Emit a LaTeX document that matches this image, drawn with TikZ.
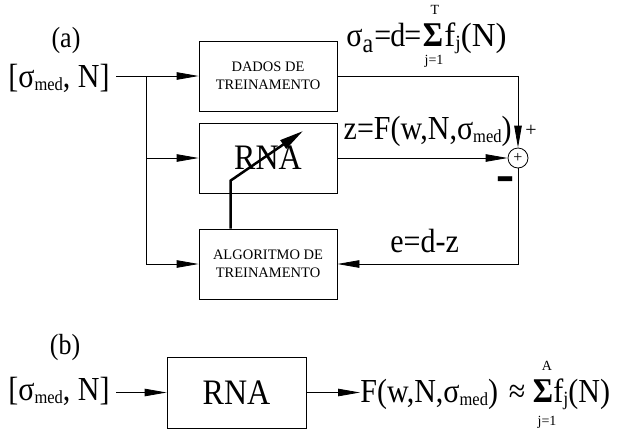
\documentclass[tikz,border=0pt]{standalone}
\usepackage{fontspec}
\usepackage{graphicx}
\setmainfont{Liberation Serif}
\usetikzlibrary{arrows.meta}
\newcommand{\smed}{σ\raisebox{-0.2ex}{\scalebox{0.55}{med}}}
\newcommand{\tl}[1]{\scalebox{1}[1.12]{#1}}
\newcommand{\subj}{\raisebox{-0.25ex}{\scalebox{0.6}{j}}}
\begin{document}
\begin{tikzpicture}[x=1pt,y=-1pt, line width=0.8pt,
  blk/.style={draw, minimum width=138pt, minimum height=70pt, inner sep=0pt, align=center},
  arr/.style={-{Triangle[length=22pt,width=7.5pt]}},
  big/.style={font=\fontsize{30}{34}\selectfont, inner sep=0pt},
  small/.style={font=\fontsize{14.5}{18}\selectfont, inner sep=0pt},
  tiny/.style={font=\fontsize{14}{16}\selectfont, inner sep=0pt},
  sig/.style={font=\fontsize{31}{34}\selectfont\bfseries, inner sep=0pt},
]
\useasboundingbox (0,0) rectangle (623,432);

% ---------- (a) ----------
\node[big, font=\fontsize{26}{30}\selectfont] (lba) at (66,40) {\tl{(a)}};
\node[big, anchor=base] (inA) at (59,87) {\tl{[\smed, N]}};

\node[blk, small] (dados) at (268,76) {DADOS DE\\TREINAMENTO};
\node[blk, font=\fontsize{32}{36}\selectfont] (rna) at (268,158) {\tl{RNA}};
\node[blk, small] (alg) at (268,264) {ALGORITMO DE\\TREINAMENTO};

\node[draw, circle, minimum size=20pt, inner sep=0pt, font=\fontsize{16}{18}\selectfont] (sum) at (518,158) {+};

\coordinate (br) at (146,76);
\draw[arr] ([xshift=6pt]inA.east |- br) -- (dados.west);
\draw[arr] (br) |- (alg.west);
\draw[arr] (br |- rna.west) -- (rna.west);
\draw[arr] (dados.east) -| (sum.north);
\draw[arr] (rna.east) -- (sum.west);
\draw[arr] (sum.south) |- (alg.east);

% weight adjustment arrow
\coordinate (wtip) at (303,131);
\draw[line width=2.5pt, -{Triangle[length=24pt,width=10pt]}]
  ([xshift=32pt]alg.north west) -- ++(0,-48) -- (wtip);

% labels
\node[big, anchor=base west] (sa) at (346,46) {\tl{σ\raisebox{-0.4ex}{\scalebox{0.8}{a}}}};
\node[big, anchor=base west] (eqd) at (374,46) {\tl{=\kern-1pt d\kern-1pt =}};
\node[sig, anchor=base] (sig1) at (433,46) {\tl{Σ}};
\node[big, anchor=base west] (fj1) at (444,46) {\scalebox{1.1}[1.12]{f\subj(N)}};
\node[tiny] (T) at (435,10) {T};
\node[tiny] (j1) at (434,61) {j=1};

\node[big, anchor=base east] (zf) at (512,139) {\tl{z=F(w,N,\smed)}};
\node[font=\fontsize{20}{22}\selectfont, inner sep=0pt] (plus) at (531,131) {+};
\node[font=\fontsize{28}{30}\bfseries, inner sep=0pt, anchor=base] (minus) at (505,195) {\scalebox{1}[2.5]{–}};
\node[big, anchor=base west] (err) at (390,252) {\tl{e=d-z}};

% ---------- (b) ----------
\node[big, font=\fontsize{26}{30}\selectfont] (lbb) at (65,347) {\tl{(b)}};
\node[big, anchor=base] (inB) at (59,400) {\tl{[\smed, N]}};
\node[blk, minimum width=139pt, minimum height=71pt, font=\fontsize{32}{36}\selectfont] (rnab) at (236.5,392.5) {\tl{RNA}};
\node[big, anchor=base west] (fb) at (360,402) {\tl{F(w,N,\smed)}};
\node[big, anchor=base] (approx) at (517,402) {\tl{≈}};
\node[sig, anchor=base] (sig2) at (543,402) {\tl{Σ}};
\node[big, anchor=base west] (fj2) at (553,402) {\tl{f\subj(N)}};
\node[tiny] (A) at (547,366) {A};
\node[tiny] (j2) at (547,422) {j=1};

\draw[arr] ([xshift=6pt]inB.east |- rnab.west) -- (rnab.west);
\draw[arr] (rnab.east) -- (fb.west |- rnab.east);
\end{tikzpicture}
\end{document}
